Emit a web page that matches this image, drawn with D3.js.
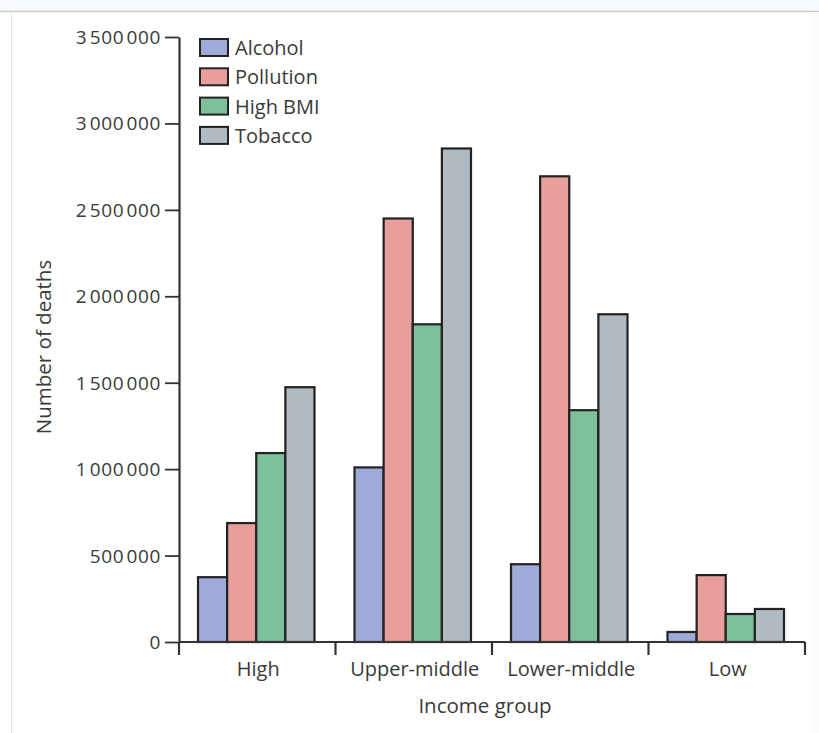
<!DOCTYPE html>
<html>
<head>
<meta charset="utf-8">
<script src="https://cdn.jsdelivr.net/npm/d3@7"></script>
<style>
  html, body { margin: 0; padding: 0; background: #ffffff; }
  svg { display: block; }
  text { font-family: "Open Sans", "Noto Sans", sans-serif; }
</style>
</head>
<body>
<svg id="chart" width="819" height="733"></svg>
<script>
const categories = ["High", "Upper-middle", "Lower-middle", "Low"];
const seriesNames = ["Alcohol", "Pollution", "High BMI", "Tobacco"];
const alcohol   = [375000, 1010000, 450000, 58000];
const pollution = [688000, 2450000, 2694000, 387000];
const highBMI   = [1093000, 1838000, 1341000, 162000];
const tobacco   = [1474000, 2855000, 1896000, 191000];
const yTicks = [0, 500000, 1000000, 1500000, 2000000, 2500000, 3000000, 3500000];
const colors = ["#9eaad8", "#e89f9b", "#7fc09c", "#b1b9c1"];

const seriesValues = [alcohol, pollution, highBMI, tobacco];

const svg = d3.select("#chart");

// page frame
svg.append("rect").attr("x", 0).attr("y", 0).attr("width", 819).attr("height", 11).attr("fill", "#f7fafc");
svg.append("line").attr("x1", 0).attr("x2", 819).attr("y1", 11.5).attr("y2", 11.5).attr("stroke", "#c9cdd0").attr("stroke-width", 1.5);
svg.append("line").attr("x1", 11.5).attr("x2", 11.5).attr("y1", 12).attr("y2", 733).attr("stroke", "#e3e6e8").attr("stroke-width", 1);
svg.append("rect").attr("x", 812).attr("y", 12).attr("width", 7).attr("height", 721).attr("fill", "#fbfbfa");

const mLeft = 179, mRight = 805, mTop = 37, mBottom = 642;

const x0 = d3.scaleBand().domain(categories).range([mLeft, mRight]).padding(0);
const x1 = d3.scaleBand().domain(seriesNames)
  .range([19, x0.bandwidth() - 21]).padding(0);
const y = d3.scaleLinear().domain([0, 3500000]).range([mBottom, mTop]);

const fmt = v => d3.format(",")(v).replace(/,/g, "\u200A");

// bars
categories.forEach((c, ci) => {
  const g = svg.append("g").attr("transform", `translate(${x0(c)},0)`);
  seriesNames.forEach((s, si) => {
    const v = seriesValues[si][ci];
    g.append("rect")
      .attr("x", x1(s))
      .attr("y", y(v))
      .attr("width", x1.bandwidth())
      .attr("height", y(0) - y(v))
      .attr("fill", colors[si])
      .attr("stroke", "#222")
      .attr("stroke-width", 2.2);
  });
});

// y axis
const yAxis = d3.axisLeft(y).tickValues(yTicks).tickFormat(fmt).tickSize(14).tickPadding(4).tickSizeOuter(0);
const gy = svg.append("g").attr("transform", `translate(${mLeft},0)`).call(yAxis);
gy.select(".domain").attr("stroke", "#333").attr("stroke-width", 2.2);
gy.selectAll(".tick line").attr("stroke", "#333").attr("stroke-width", 1.8);
gy.selectAll(".tick text").attr("fill", "#3a3a3a").style("font-size", "19px")
  .style("letter-spacing", "0.6px").attr("dy", "0.34em");

// x axis with boundary ticks
const xAxisLine = svg.append("g");
xAxisLine.append("line").attr("x1", mLeft).attr("x2", mRight).attr("y1", mBottom).attr("y2", mBottom)
  .attr("stroke", "#333").attr("stroke-width", 2.2);
const boundaries = [mLeft].concat(categories.map(c => x0(c) + x0.bandwidth()));
xAxisLine.selectAll("line.b").data(boundaries).enter().append("line")
  .attr("class", "b")
  .attr("x1", d => d).attr("x2", d => d)
  .attr("y1", mBottom).attr("y2", mBottom + 13)
  .attr("stroke", "#333").attr("stroke-width", 2.2);
xAxisLine.selectAll("text.cat").data(categories).enter().append("text")
  .attr("class", "cat")
  .attr("x", d => x0(d) + x0.bandwidth() / 2 + 1)
  .attr("y", 676)
  .attr("text-anchor", "middle")
  .attr("fill", "#3a3a3a")
  .style("font-size", "20px")
  .text(d => d);

// axis titles
svg.append("text").attr("x", 485).attr("y", 713).attr("text-anchor", "middle")
  .attr("fill", "#3a3a3a").style("font-size", "20.5px").text("Income group");
svg.append("text").attr("transform", "translate(51,347) rotate(-90)").attr("text-anchor", "middle")
  .attr("fill", "#3a3a3a").style("font-size", "20.5px").text("Number of deaths");

// legend
const legend = svg.append("g").attr("transform", "translate(200,39)");
seriesNames.forEach((s, i) => {
  const row = legend.append("g").attr("transform", `translate(0,${i * 29.3})`);
  row.append("rect").attr("x", 0).attr("y", 0).attr("width", 28).attr("height", 17)
    .attr("fill", colors[i]).attr("stroke", "#222").attr("stroke-width", 2);
  row.append("text").attr("x", 35).attr("y", 16).attr("fill", "#3a3a3a")
    .style("font-size", "20px").text(s);
});
</script>
</body>
</html>
